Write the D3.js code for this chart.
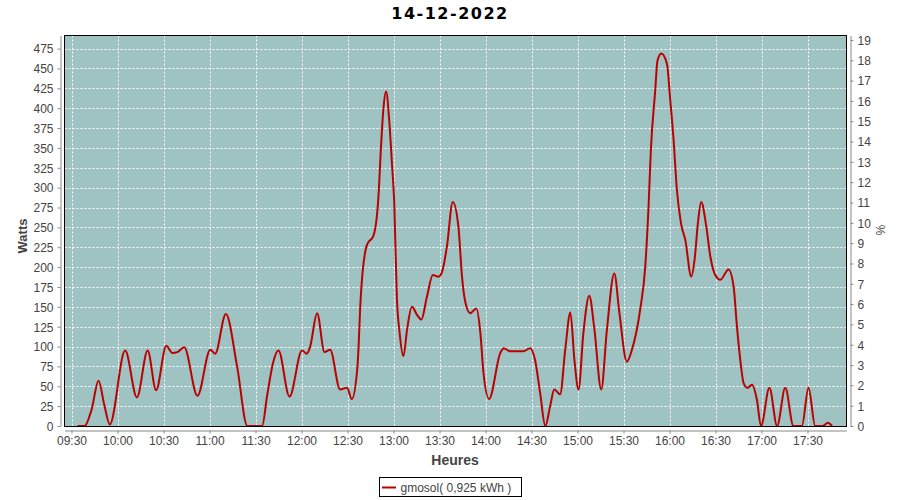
<!DOCTYPE html>
<html>
<head>
<meta charset="utf-8">
<script src="https://cdn.jsdelivr.net/npm/d3@7/dist/d3.min.js"></script>
<style>
  html, body { margin: 0; padding: 0; background: #ffffff; }
  svg { display: block; }
</style>
</head>
<body>
<svg id="chart" width="900" height="500"></svg>
<script>
// ---- data ----
const chartTitle = "14-12-2022";
const seriesName = "gmosol( 0,925 kWh )";
const times = [
  "09:34:00","09:38:30","09:43:00","09:47:40","09:51:20","09:55:00","10:05:00","10:12:40",
  "10:19:40","10:25:10","10:31:50","10:35:40","10:39:00","10:43:30","10:52:10","11:00:30",
  "11:03:40","11:10:40","11:18:00","11:24:40","11:34:20","11:37:30","11:41:30","11:45:00",
  "11:52:10","12:00:20","12:03:30","12:05:40","12:10:10","12:15:00","12:18:40","12:25:10",
  "12:29:40","12:32:50","12:36:30","12:38:40","12:42:40","12:47:00","12:50:10","12:51:50",
  "12:53:30","12:55:10","12:57:20","12:59:00","13:00:30","13:02:10","13:04:00","13:06:30",
  "13:08:50","13:12:00","13:15:20","13:18:10","13:21:50","13:25:40","13:29:20","13:31:40",
  "13:34:50","13:38:40","13:42:20","13:44:40","13:46:50","13:50:00","13:54:00","13:56:40",
  "13:58:40","14:02:20","14:09:40","14:11:50","14:16:00","14:24:40","14:29:10","14:32:20",
  "14:35:40","14:39:00","14:42:10","14:44:50","14:48:40","14:52:00","14:55:20","14:58:00",
  "15:00:40","15:03:50","15:07:40","15:10:50","15:15:30","15:19:10","15:24:00","15:27:20",
  "15:32:10","15:35:30","15:40:50","15:44:10","15:46:20","15:47:50","15:50:40","15:52:10",
  "15:54:40","15:58:20","16:00:30","16:02:40","16:04:50","16:07:30","16:10:20","16:14:10",
  "16:16:20","16:18:30","16:20:40","16:24:00","16:26:40","16:29:50","16:33:10","16:38:30",
  "16:41:50","16:44:00","16:46:10","16:48:20","16:50:50","16:53:50","16:57:00","16:59:40",
  "17:05:10","17:10:10","17:15:30","17:20:50","17:26:20","17:30:40","17:35:00","17:39:40",
  "17:43:20","17:46:00"
];
const watts = [
  0, 0, 20, 57, 27, 2, 95, 36,
  95, 45, 101, 92, 93, 99, 38, 96,
  91, 141, 75, 0, 0, 37, 80, 95,
  37, 95, 91, 100, 142, 93, 96, 46,
  48, 34, 75, 163, 228, 240, 288, 351,
  401, 421, 381, 330, 280, 163, 117, 88,
  121, 150, 140, 134, 163, 190, 188, 194,
  226, 282, 251, 188, 156, 142, 148, 117,
  67, 34, 92, 98, 94, 94, 98, 83,
  41, 0, 25, 46, 40, 96, 143, 83,
  46, 117, 164, 125, 46, 121, 192, 142,
  81, 96, 146, 200, 276, 347, 422, 460,
  469, 456, 410, 360, 297, 255, 234, 188,
  209, 255, 282, 251, 213, 190, 184, 197,
  175, 125, 83, 54, 48, 52, 33, 0,
  48, 0, 48, 0, 0, 48, 0, 0,
  4, 0
];
const xTickLabels = ["09:30","10:00","10:30","11:00","11:30","12:00","12:30","13:00","13:30","14:00","14:30","15:00","15:30","16:00","16:30","17:00","17:30"];
const xDomainLabels = ["09:25:26","17:55:26"];
const wattTicks = [0,25,50,75,100,125,150,175,200,225,250,275,300,325,350,375,400,425,450,475];
const pctTicks = [0,1,2,3,4,5,6,7,8,9,10,11,12,13,14,15,16,17,18,19];
const wattMax = 491.5;
const pctMax = 19.22;

// ---- layout ----
const svg = d3.select("#chart");
const L = 64.5, R = 846.5, T = 35.5, B = 426;
const parseT = d3.timeParse("%H:%M:%S");
const parseHM = d3.timeParse("%H:%M");
const fmt = d3.timeFormat("%H:%M");

const x = d3.scaleTime().domain(xDomainLabels.map(parseT)).range([L, R]);
const y = d3.scaleLinear().domain([0, wattMax]).range([B, T]);
const y2 = d3.scaleLinear().domain([0, pctMax]).range([B, T]);

const textColor = "#444444";
const axisColor = "#888888";
const tickFont = "Liberation Sans, Arial, sans-serif";

// title
svg.append("text").attr("x", 450).attr("y", 19)
  .attr("text-anchor", "middle")
  .attr("font-family", "DejaVu Sans, sans-serif")
  .attr("font-weight", "bold").attr("font-size", 16)
  .attr("letter-spacing", 1.5)
  .attr("fill", "#000").text(chartTitle);

// plot background
svg.append("rect").attr("x", L).attr("y", T).attr("width", R - L).attr("height", B + 0.5 - T)
  .attr("fill", "#9ec3c2");

// gridlines
const grid = svg.append("g").attr("stroke", "#ffffff").attr("stroke-width", 1).attr("stroke-dasharray", "2,2");
xTickLabels.forEach(t => {
  const px = Math.round(x(parseHM(t))) + 0.5;
  grid.append("line").attr("x1", px).attr("x2", px).attr("y1", T).attr("y2", B);
});
wattTicks.forEach(v => {
  if (v === 0) return;
  const py = Math.round(y(v)) + 0.5;
  grid.append("line").attr("x1", L).attr("x2", R).attr("y1", py).attr("y2", py);
});

// data line
const data = times.map((t, i) => ({ t: parseT(t), v: watts[i] }));
svg.append("clipPath").attr("id", "clip").append("rect")
  .attr("x", L).attr("y", T).attr("width", R - L).attr("height", B + 2 - T);
const line = d3.line().x(d => x(d.t)).y(d => y(d.v)).curve(d3.curveMonotoneX);
svg.append("path").datum(data).attr("d", line)
  .attr("clip-path", "url(#clip)")
  .attr("fill", "none").attr("stroke", "#bb0000").attr("stroke-width", 2)
  .attr("stroke-linejoin", "round");

// plot border
svg.append("rect").attr("x", L).attr("y", T).attr("width", R - L).attr("height", B + 0.5 - T)
  .attr("fill", "none").attr("stroke", "#000").attr("stroke-width", 1);

// axes
function styleAxis(g) {
  g.selectAll(".domain").attr("stroke", axisColor);
  g.selectAll(".tick line").attr("stroke", axisColor);
  g.selectAll(".tick text").attr("fill", textColor).attr("font-family", tickFont).attr("font-size", 12);
}
const xAxis = d3.axisBottom(x)
  .tickValues(xTickLabels.map(parseHM))
  .tickFormat(fmt).tickSize(3).tickSizeOuter(0).tickPadding(3);
svg.append("g").attr("transform", "translate(0,430.5)").call(xAxis).call(styleAxis);

const yAxis = d3.axisLeft(y).tickValues(wattTicks).tickSize(3).tickSizeOuter(0).tickPadding(4);
svg.append("g").attr("transform", "translate(60.5,0)").call(yAxis).call(styleAxis)
  .selectAll(".tick text").attr("dy", "0.36em");

const y2Axis = d3.axisRight(y2).tickValues(pctTicks).tickSize(3).tickSizeOuter(0).tickPadding(4);
svg.append("g").attr("transform", "translate(850.5,0)").call(y2Axis).call(styleAxis)
  .selectAll(".tick text").attr("dy", "0.36em");

// axis labels
svg.append("text").attr("transform", "translate(27,236) rotate(-90)")
  .attr("text-anchor", "middle").attr("font-family", tickFont)
  .attr("font-weight", "bold").attr("font-size", 13).attr("fill", textColor).text("Watts");
svg.append("text").attr("x", 455).attr("y", 465)
  .attr("text-anchor", "middle").attr("font-family", tickFont)
  .attr("font-weight", "bold").attr("font-size", 14).attr("fill", textColor).text("Heures");
svg.append("text").attr("transform", "translate(876,230) rotate(90)")
  .attr("text-anchor", "middle").attr("font-family", tickFont)
  .attr("font-size", 12).attr("fill", textColor).text("%");

// legend
const lg = svg.append("g");
lg.append("rect").attr("x", 379.5).attr("y", 477.5).attr("width", 142).attr("height", 19)
  .attr("fill", "#fff").attr("stroke", "#000").attr("stroke-width", 1);
lg.append("line").attr("x1", 382).attr("x2", 396).attr("y1", 487.5).attr("y2", 487.5)
  .attr("stroke", "#bb0000").attr("stroke-width", 2);
lg.append("text").attr("x", 400.5).attr("y", 492)
  .attr("font-family", tickFont).attr("font-size", 12).attr("fill", textColor).text(seriesName);
</script>
</body>
</html>
